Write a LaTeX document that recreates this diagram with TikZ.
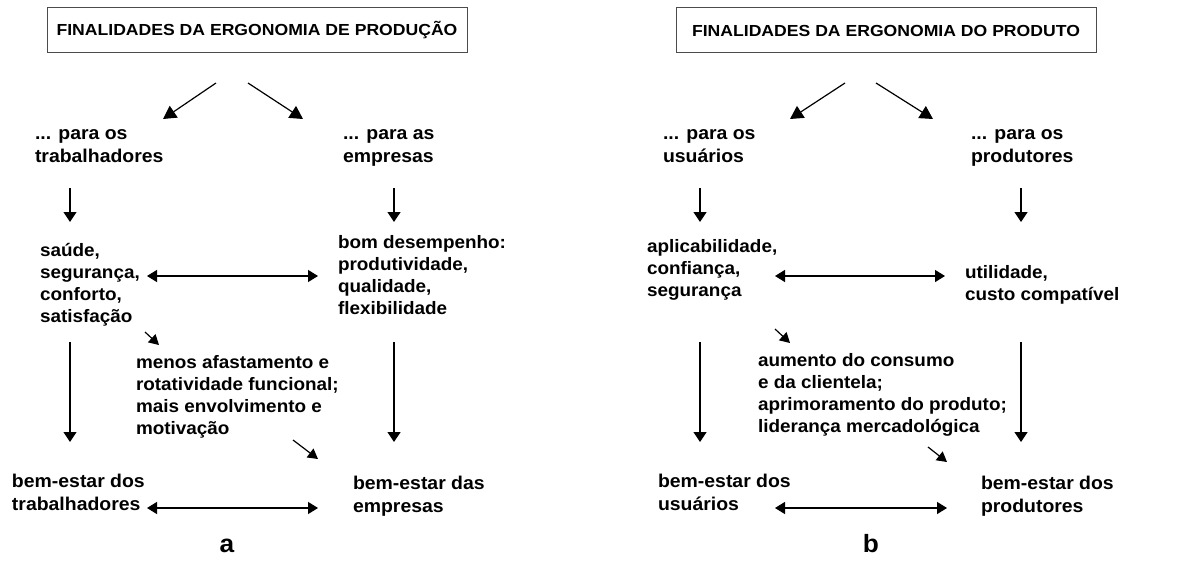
\documentclass[tikz,border=0pt]{standalone}
\usepackage{fontspec}
\setmainfont{Liberation Sans}
\newfontfamily\bodyfont[FakeStretch=1.05]{Liberation Sans Bold}
\newfontfamily\titlefont[FakeStretch=1.1]{Liberation Sans Bold}
\usetikzlibrary{arrows.meta}
\begin{document}
\begin{tikzpicture}[x=1pt,y=-1pt,
  every node/.style={inner sep=0pt, outer sep=0pt},
  mid/.style={anchor=base west, align=left, font={\bodyfont\fontsize{18}{22}\selectfont\lineskiplimit=-100pt}},
  big/.style={anchor=base west, align=left, font={\bodyfont\fontsize{18.5}{23}\selectfont\lineskiplimit=-100pt}},
  lab/.style={anchor=base, font={\bodyfont\fontsize{25}{28}\selectfont}},
  titlebox/.style={draw=black!70, line width=1pt, minimum width=420pt, minimum height=45pt, font={\titlefont\fontsize{16}{19}\selectfont}},
  arr/.style={line width=1.3pt, -{Triangle[length=10pt,width=13pt]}},
  darr/.style={line width=1.3pt, {Triangle[length=10pt,width=12pt]}-{Triangle[length=10pt,width=12pt]}},
  diag/.style={line width=1.2pt, -{Triangle[length=13pt,width=14pt]}},
  small/.style={line width=1.2pt, -{Triangle[length=10pt,width=11pt]}},
]
\fill[white] (0,0) rectangle (1198,564);
\useasboundingbox (0,0) rectangle (1198,564);

% ---------------- panel a ----------------
\node[titlebox] (t1) at (257,30.5) {FINALIDADES DA ERGONOMIA DE PRODUÇÃO};
\node[big] (pt) at (35,163) {... para os\\trabalhadores};
\node[big] (pe) at (343,163) {... para as\\empresas};
\node[mid] (sa) at (40,322) {saúde,\\segurança,\\conforto,\\satisfação};
\node[mid] (bd) at (338,314) {bom desempenho:\\produtividade,\\qualidade,\\flexibilidade};
\node[mid] (me) at (136,434) {menos afastamento e\\rotatividade funcional;\\mais envolvimento e\\motivação};
\node[big] (bt) at (12,510) {bem-estar dos\\trabalhadores};
\node[big] (be) at (353,512) {bem-estar das\\empresas};
\node[lab] (la) at (227,552) {a};

\coordinate (a1s) at (216,83);  \coordinate (a1e) at (163,119);
\coordinate (a2s) at (248,83);  \coordinate (a2e) at (303,119);
\coordinate (a3s) at (70,188);  \coordinate (a3e) at (70,222);
\coordinate (a4s) at (394,188); \coordinate (a4e) at (394,222);
\coordinate (a5s) at (147,276); \coordinate (a5e) at (318,276);
\coordinate (a6s) at (145,332); \coordinate (a6e) at (159,345);
\coordinate (a7s) at (70,342);  \coordinate (a7e) at (70,442);
\coordinate (a8s) at (394,342); \coordinate (a8e) at (394,442);
\coordinate (a9s) at (293,440); \coordinate (a9e) at (318,459);
\coordinate (a10s) at (147,508); \coordinate (a10e) at (318,508);

\draw[diag] (a1s) -- (a1e);
\draw[diag] (a2s) -- (a2e);
\draw[arr] (a3s) -- (a3e);
\draw[arr] (a4s) -- (a4e);
\draw[darr] (a5s) -- (a5e);
\draw[small] (a6s) -- (a6e);
\draw[arr] (a7s) -- (a7e);
\draw[arr] (a8s) -- (a8e);
\draw[small] (a9s) -- (a9e);
\draw[darr] (a10s) -- (a10e);

% ---------------- panel b ----------------
\node[titlebox] (t2) at (886,30.5) {FINALIDADES DA ERGONOMIA DO PRODUTO};
\node[big] (pu) at (663,163) {... para os\\usuários};
\node[big] (pp) at (971,163) {... para os\\produtores};
\node[mid] (ap) at (647,296) {aplicabilidade,\\confiança,\\segurança};
\node[mid] (ut) at (965,300) {utilidade,\\custo compatível};
\node[mid] (au) at (758,432) {aumento do consumo\\e da clientela;\\aprimoramento do produto;\\liderança mercadológica};
\node[big] (bu) at (658,510) {bem-estar dos\\usuários};
\node[big] (bp) at (981,512) {bem-estar dos\\produtores};
\node[lab] (lb) at (871,552) {b};

\coordinate (b1s) at (845,83);  \coordinate (b1e) at (790,119);
\coordinate (b2s) at (876,83);  \coordinate (b2e) at (933,119);
\coordinate (b3s) at (700,188); \coordinate (b3e) at (700,222);
\coordinate (b4s) at (1021,188); \coordinate (b4e) at (1021,222);
\coordinate (b5s) at (775,276); \coordinate (b5e) at (945,276);
\coordinate (b6s) at (775,329); \coordinate (b6e) at (790,343);
\coordinate (b7s) at (700,342); \coordinate (b7e) at (700,442);
\coordinate (b8s) at (1021,342); \coordinate (b8e) at (1021,442);
\coordinate (b9s) at (928,447); \coordinate (b9e) at (947,462);
\coordinate (b10s) at (775,508); \coordinate (b10e) at (947,508);

\draw[diag] (b1s) -- (b1e);
\draw[diag] (b2s) -- (b2e);
\draw[arr] (b3s) -- (b3e);
\draw[arr] (b4s) -- (b4e);
\draw[darr] (b5s) -- (b5e);
\draw[small] (b6s) -- (b6e);
\draw[arr] (b7s) -- (b7e);
\draw[arr] (b8s) -- (b8e);
\draw[small] (b9s) -- (b9e);
\draw[darr] (b10s) -- (b10e);
\end{tikzpicture}
\end{document}
